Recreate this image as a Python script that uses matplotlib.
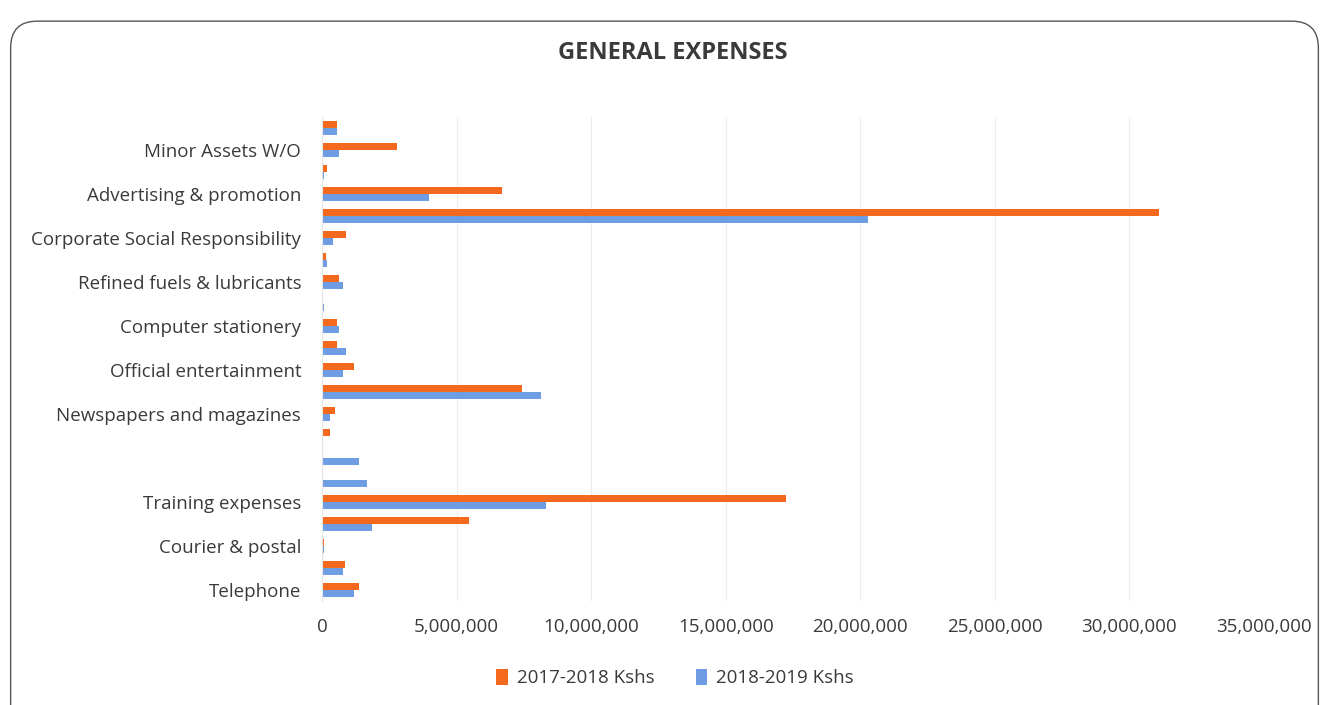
import numpy as np
import matplotlib.pyplot as plt
from matplotlib.patches import FancyBboxPatch
from matplotlib.ticker import FuncFormatter

# categories listed bottom to top; only every other one is labelled in the source
categories = ['Telephone', '', 'Courier & postal', '', 'Training expenses', '',
              '', '', 'Newspapers and magazines', '', 'Official entertainment', '',
              'Computer stationery', '', 'Refined fuels & lubricants', '',
              'Corporate Social Responsibility', '', 'Advertising & promotion', '',
              'Minor Assets W/O', '']
exp_2017 = [1390000, 840000, 70000, 5470000, 17240000, 0,
            0, 300000, 500000, 7450000, 1190000, 550000,
            550000, 0, 620000, 150000,
            890000, 31100000, 6690000, 200000,
            2800000, 550000]
exp_2018 = [1190000, 790000, 70000, 1860000, 8340000, 1660000,
            1390000, 0, 300000, 8120000, 770000, 890000,
            640000, 70000, 770000, 170000,
            420000, 20300000, 3960000, 70000,
            640000, 570000]
series_names = ['2017-2018 Kshs', '2018-2019 Kshs']
xticks = np.arange(0, 35000001, 5000000)

orange = '#F4691E'
blue = '#6E9DE3'
txt = '#3a3a3a'

fig = plt.figure(figsize=(13.29, 7.05), dpi=100)
ax = fig.add_axes([0.2423, 0.1475, 0.7087, 0.6865])

# rounded frame round the chart
frame = FancyBboxPatch((0.008, -0.05), 0.984, 1.02, boxstyle='round,pad=0,rounding_size=0.02',
                       transform=fig.transFigure, fill=False, edgecolor='#555555', linewidth=1.0,
                       mutation_aspect=1.9)
fig.patches.append(frame)

y = np.arange(len(categories))
h = 0.32
ax.barh(y + h / 2, exp_2017, height=h, color=orange, label=series_names[0])
ax.barh(y - h / 2, exp_2018, height=h, color=blue, label=series_names[1])

ax.set_ylim(-0.5, len(categories) - 0.5)
ax.set_xlim(0, 35000000)
ax.set_xticks(xticks)
ax.xaxis.set_major_formatter(FuncFormatter(lambda v, p: f'{int(v):,}'))
ax.set_yticks(y)
ax.set_yticklabels(categories, fontsize=13.5, family='Open Sans', color=txt)
for lab in ax.get_xticklabels():
    lab.set_fontsize(13.5)
    lab.set_family('Open Sans')
    lab.set_color(txt)

ax.grid(axis='x', color='#f2eaea', linewidth=0.8)
ax.set_axisbelow(True)
for s in ['top', 'right', 'bottom']:
    ax.spines[s].set_visible(False)
ax.spines['left'].set_color('#e4e4e4')
ax.tick_params(axis='x', length=0, pad=12)
ax.tick_params(axis='y', length=0, pad=15)

fig.text(0.506, 0.925, 'GENERAL EXPENSES', ha='center', va='center', fontsize=17,
         fontweight='bold', family='Open Sans', color=txt)

fig.legend(loc='center', bbox_to_anchor=(0.508, 0.038), ncol=2, frameon=False,
           prop={'family': 'Open Sans', 'size': 13.5}, handlelength=0.6, handleheight=0.9,
           handletextpad=0.5, columnspacing=2.2, labelcolor=txt)

fig.savefig('out.png', dpi=100)
